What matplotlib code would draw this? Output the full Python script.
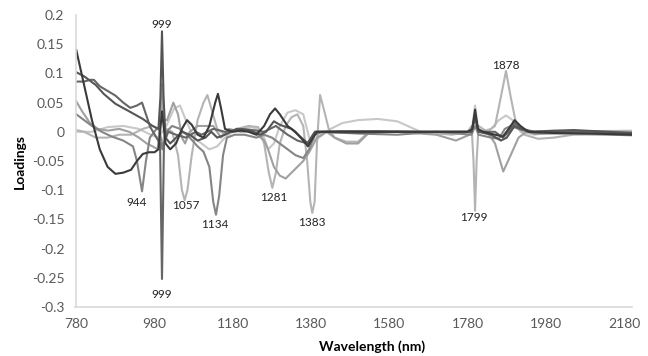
import matplotlib
matplotlib.use("Agg")
import matplotlib.pyplot as plt

# =========================
# 1. Data (wavelength in nm, loading)
# =========================

wl_1 = [780, 800, 820, 840, 860, 880, 900, 920, 935, 950, 965, 980, 990, 999, 1008,
        1020, 1035, 1050, 1063, 1075, 1090, 1105, 1120, 1135, 1142, 1150, 1160, 1180,
        1200, 1220, 1240, 1260, 1275, 1288, 1300, 1320, 1340, 1360, 1372, 1385, 1395,
        1500, 1600, 1700, 1780, 1792, 1799, 1806, 1820, 1850, 1870, 1885, 1900, 1915,
        1935, 2000, 2100, 2200]
load_1 = [0.14, 0.08, 0.02, -0.03, -0.06, -0.072, -0.07, -0.065, -0.05, -0.038, -0.035,
          -0.035, -0.03, 0.035, -0.02, -0.03, -0.02, 0.005, 0.02, 0.012, -0.005, -0.01,
          0.01, 0.05, 0.065, 0.04, 0.005, 0.0, 0.002, 0.0, -0.005, 0.01, 0.03, 0.04, 0.03,
          0.01, 0.0, -0.015, -0.025, -0.01, 0.0, 0.0, 0.0, 0.0, 0.0, 0.005, 0.038, 0.005,
          0.0, -0.005, -0.008, 0.005, 0.02, 0.01, 0.0, -0.002, -0.003, -0.005]

wl_2 = [780, 800, 830, 850, 880, 918, 950, 975, 990, 995, 999, 1003, 1008, 1020, 1035,
        1050, 1070, 1090, 1110, 1125, 1140, 1160, 1190, 1220, 1250, 1265, 1285, 1300,
        1330, 1355, 1372, 1390, 1450, 1550, 1650, 1750, 1790, 1799, 1808, 1840, 1865,
        1880, 1900, 1915, 1940, 2050, 2200]
load_2 = [0.102, 0.095, 0.08, 0.065, 0.048, 0.034, 0.022, 0.01, 0.005, 0.06, 0.172, 0.06,
          -0.01, -0.02, -0.01, 0.0, -0.005, -0.015, -0.01, 0.0, -0.01, -0.005, 0.005,
          0.003, -0.005, 0.0, 0.018, 0.012, 0.005, -0.01, -0.02, 0.0, 0.001, 0.001, 0.0,
          0.0, 0.0, 0.025, 0.0, -0.005, -0.015, -0.01, 0.01, 0.005, 0.0, 0.003, -0.002]

wl_3 = [780, 800, 815, 825, 840, 860, 880, 900, 918, 935, 948, 958, 969, 985, 994, 999,
        1004, 1015, 1035, 1060, 1085, 1100, 1130, 1160, 1200, 1230, 1260, 1290, 1320,
        1345, 1370, 1390, 1500, 1600, 1700, 1790, 1799, 1808, 1850, 1870, 1885, 1900,
        1920, 1950, 2100, 2200]
load_3 = [0.086, 0.086, 0.089, 0.089, 0.078, 0.07, 0.062, 0.05, 0.041, 0.045, 0.05, 0.03,
          0.008, -0.01, -0.02, -0.252, -0.02, 0.0, -0.005, -0.01, 0.0, -0.005, 0.005, 0.0,
          0.005, 0.003, 0.0, 0.01, -0.005, -0.015, -0.02, 0.0, -0.002, 0.0, 0.0, 0.0, 0.03,
          0.0, 0.0, -0.01, 0.0, 0.015, 0.005, 0.0, 0.0, -0.004]

wl_4 = [780, 800, 820, 845, 870, 900, 925, 935, 948, 958, 968, 985, 992, 1000, 1010,
        1025, 1045, 1070, 1090, 1105, 1120, 1130, 1137, 1145, 1155, 1165, 1185, 1210,
        1240, 1260, 1280, 1300, 1320, 1340, 1360, 1375, 1390, 1410, 1500, 1600, 1700,
        1790, 1799, 1808, 1840, 1860, 1875, 1890, 1910, 1950, 2050, 2200]
load_4 = [0.03, 0.02, 0.01, 0.0, -0.008, -0.015, -0.025, -0.05, -0.102, -0.05, -0.01,
          0.005, 0.005, -0.03, 0.0, 0.01, 0.005, -0.01, -0.025, -0.034, -0.06, -0.12,
          -0.142, -0.11, -0.04, -0.01, -0.005, -0.005, -0.01, -0.005, -0.01, -0.02, -0.03,
          -0.04, -0.045, -0.03, -0.005, 0.0, -0.003, -0.005, 0.0, -0.005, 0.01, -0.005,
          -0.01, -0.012, 0.005, 0.01, 0.005, -0.003, -0.003, -0.006]

wl_5 = [780, 795, 815, 835, 860, 890, 915, 940, 960, 975, 988, 995, 999, 1003, 1012,
        1028, 1040, 1050, 1058, 1070, 1090, 1130, 1150, 1170, 1200, 1230, 1260, 1270,
        1285, 1300, 1315, 1330, 1345, 1360, 1375, 1395, 1420, 1440, 1470, 1500, 1530,
        1600, 1700, 1750, 1785, 1799, 1808, 1830, 1850, 1871, 1890, 1910, 1930, 2000,
        2200]
load_5 = [0.052, 0.035, 0.015, 0.005, 0.002, 0.005, 0.0, -0.01, -0.02, -0.025, -0.03,
          0.02, 0.082, 0.02, 0.02, 0.05, 0.03, -0.01, -0.02, 0.0, 0.01, 0.01, -0.01,
          0.005, 0.0, 0.002, -0.015, -0.03, -0.06, -0.075, -0.08, -0.07, -0.06, -0.05,
          -0.035, -0.01, 0.0, -0.01, -0.02, -0.02, 0.0, 0.0, -0.005, -0.015, -0.005, 0.02,
          0.0, 0.0, -0.02, -0.068, -0.04, -0.01, 0.0, 0.002, 0.0]

wl_6 = [780, 800, 830, 860, 890, 920, 950, 975, 990, 999, 1010, 1025, 1040, 1050, 1057,
        1064, 1075, 1090, 1105, 1115, 1125, 1140, 1160, 1190, 1220, 1245, 1260, 1272,
        1281, 1290, 1300, 1315, 1330, 1345, 1360, 1370, 1378, 1383, 1389, 1395, 1403,
        1412, 1425, 1440, 1470, 1500, 1520, 1540, 1650, 1740, 1780, 1790, 1795, 1799,
        1803, 1808, 1830, 1850, 1865, 1878, 1890, 1905, 1925, 1960, 2000, 2050, 2200]
load_6 = [0.003, 0.0, -0.01, -0.01, -0.005, -0.005, 0.005, 0.01, 0.005, -0.02, 0.005, 0.0,
          -0.04, -0.1, -0.117, -0.1, -0.04, 0.02, 0.05, 0.063, 0.04, 0.005, -0.005, 0.005,
          0.01, 0.008, -0.02, -0.07, -0.096, -0.07, -0.02, 0.01, 0.025, 0.03, 0.01, -0.05,
          -0.12, -0.139, -0.12, -0.02, 0.063, 0.04, 0.005, -0.01, -0.017, -0.017, -0.005,
          0.0, 0.0, -0.005, 0.0, 0.01, -0.05, -0.135, -0.05, 0.01, 0.0, 0.01, 0.06, 0.104,
          0.06, 0.01, -0.005, -0.012, -0.01, -0.005, -0.004]

wl_7 = [780, 820, 860, 900, 940, 970, 990, 1010, 1030, 1045, 1060, 1080, 1100, 1120,
        1140, 1160, 1190, 1230, 1255, 1270, 1285, 1300, 1320, 1340, 1360, 1375, 1390,
        1410, 1430, 1460, 1500, 1550, 1600, 1640, 1660, 1720, 1790, 1799, 1808, 1840,
        1860, 1878, 1895, 1915, 1950, 2000, 2200]
load_7 = [0.0, 0.0, 0.008, 0.01, 0.005, -0.005, -0.01, 0.01, 0.04, 0.045, 0.02, -0.01,
          -0.02, -0.03, -0.025, -0.01, 0.005, 0.008, 0.0, -0.03, -0.02, 0.01, 0.033, 0.037,
          0.03, -0.01, -0.015, -0.005, 0.005, 0.015, 0.02, 0.022, 0.018, 0.006, 0.0, 0.0,
          0.0, 0.045, 0.0, 0.005, 0.02, 0.028, 0.02, 0.0, -0.005, 0.0, 0.002]

# light series first, dark ones on top
SERIES = [
    (wl_7, load_7, "#c8c8c8"),
    (wl_6, load_6, "#b4b4b4"),
    (wl_5, load_5, "#a0a0a0"),
    (wl_4, load_4, "#858585"),
    (wl_3, load_3, "#666666"),
    (wl_2, load_2, "#555555"),
    (wl_1, load_1, "#3a3a3a"),
]

# peak labels
peak_text = ["999", "999", "944", "1057", "1134", "1281", "1383", "1799", "1878"]
peak_x = [999, 999, 935, 1060, 1135, 1284, 1382, 1797, 1878]
peak_y = [0.184, -0.278, -0.121, -0.127, -0.158, -0.112, -0.155, -0.147, 0.113]

x_ticks = [780, 980, 1180, 1380, 1580, 1780, 1980, 2180]
y_ticks = [0.2, 0.15, 0.1, 0.05, 0, -0.05, -0.1, -0.15, -0.2, -0.25, -0.3]
y_tick_labels = ["0.2", "0.15", "0.1", "0.05", "0", "-0.05", "-0.1", "-0.15",
                 "-0.2", "-0.25", "-0.3"]

# =========================
# 2. Plot
# =========================

plt.rcParams["font.family"] = ["Lato", "DejaVu Sans"]

fig = plt.figure(figsize=(6.48, 3.56), dpi=100)
ax = fig.add_axes([75.5 / 648, 1 - 307 / 356, 556.5 / 648, 292 / 356])

for wl, load, color in SERIES:
    ax.plot(wl, load, color=color, linewidth=1.5, solid_joinstyle="round")

for txt, x, y in zip(peak_text, peak_x, peak_y):
    ax.text(x, y, txt, ha="center", va="center", fontsize=8.5, color="#222222")

ax.set_xlim(778, 2200)
ax.set_ylim(-0.3, 0.2)
ax.set_xticks(x_ticks)
ax.set_yticks(y_ticks)
ax.set_yticklabels(y_tick_labels)
ax.tick_params(length=0, labelsize=10, labelcolor="#595959", pad=8)

for side in ["top", "right"]:
    ax.spines[side].set_visible(False)
for side in ["left", "bottom"]:
    ax.spines[side].set_color("#d9d9d9")
    ax.spines[side].set_linewidth(1.2)

ax.set_xlabel("Wavelength (nm)", fontsize=10, fontweight="bold", color="#000000",
              va="center")
ax.set_ylabel("Loadings", fontsize=10, fontweight="bold", color="#000000",
              va="center")
ax.xaxis.set_label_coords(0.533, -0.136)
ax.yaxis.set_label_coords(-0.1, 0.5)

fig.savefig("out.png", dpi=100)
